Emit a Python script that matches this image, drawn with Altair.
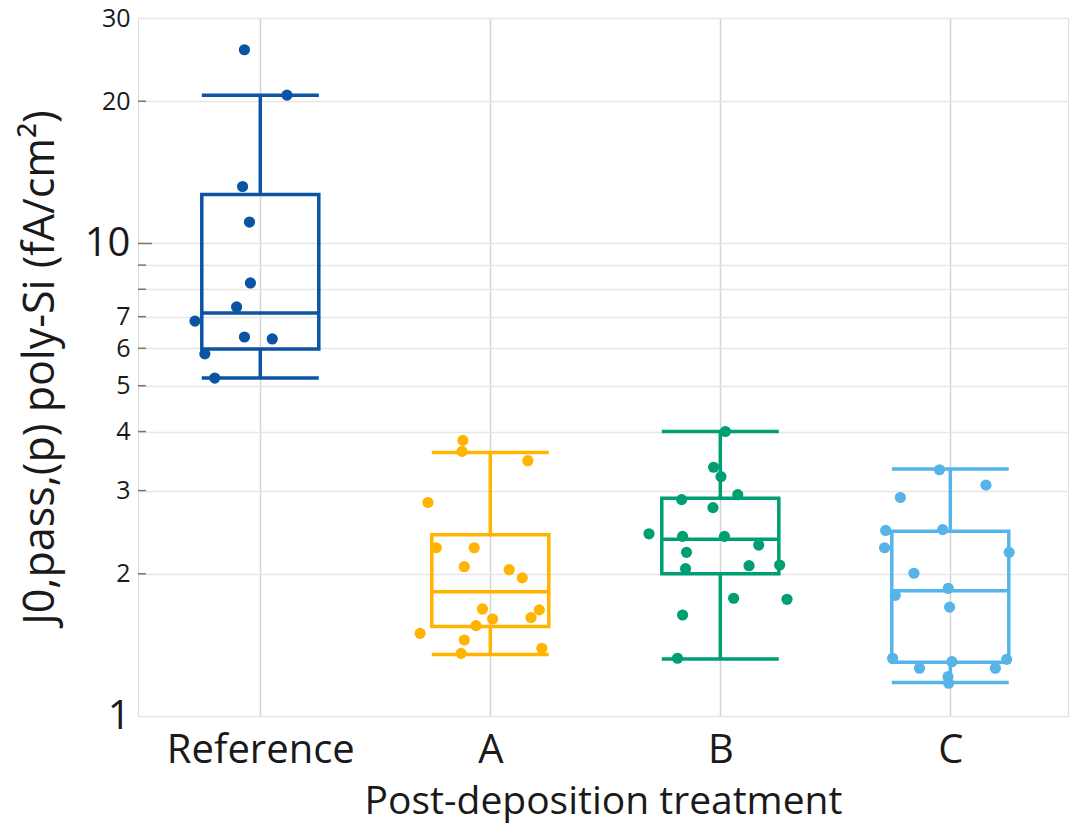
import altair as alt
import pandas as pd

# Treatment groups and colours
groups = ["Reference", "A", "B", "C"]
colors = ["#0b53a3", "#ffb400", "#009e73", "#56b4e9"]

# Individual J0 measurements (fA/cm²) per group, with horizontal jitter (fraction of band)
ref_vals = [25.7, 20.6, 13.2, 11.1, 8.25, 7.34, 6.85, 6.34, 6.28, 5.84, 5.19]
ref_jit = [-0.069, 0.116, -0.077, -0.047, -0.043, -0.103, -0.284, -0.069, 0.052, -0.241, -0.198]

a_vals = [3.83, 3.63, 3.47, 2.83, 2.27, 2.27, 2.07, 2.04, 1.96, 1.685, 1.677,
          1.604, 1.615, 1.553, 1.496, 1.448, 1.391, 1.357]
a_jit = [-0.119, -0.123, 0.163, -0.271, -0.235, -0.070, -0.113, 0.082, 0.139, -0.034, 0.213,
         0.010, 0.177, -0.062, -0.305, -0.113, 0.224, -0.127]

b_vals = [4.0, 3.36, 3.21, 2.87, 2.94, 2.76, 2.43, 2.40, 2.40, 2.30, 2.22,
          2.087, 2.05, 2.08, 1.775, 1.766, 1.636, 1.325]
b_jit = [0.022, -0.029, 0.003, -0.168, 0.076, -0.032, -0.310, -0.164, 0.018, 0.167, -0.147,
         0.258, -0.151, 0.125, 0.058, 0.290, -0.164, -0.186]

c_vals = [3.32, 3.08, 2.90, 2.47, 2.48, 2.27, 2.22, 2.005, 1.863, 1.80, 1.70,
          1.325, 1.318, 1.303, 1.262, 1.262, 1.211, 1.173]
c_jit = [-0.047, 0.155, -0.217, -0.281, -0.033, -0.286, 0.256, -0.158, -0.009, -0.239, -0.003,
         -0.251, 0.245, 0.007, -0.134, 0.196, -0.010, -0.007]

# Box summary per group: lower whisker, Q1, median, Q3, upper whisker
whisker_lo = [5.19, 1.35, 1.32, 1.178]
q1 = [5.98, 1.546, 2.0, 1.30]
median = [7.13, 1.833, 2.366, 1.84]
q3 = [12.7, 2.42, 2.89, 2.46]
whisker_hi = [20.6, 3.61, 4.0, 3.33]

# Y-axis tick values (8 and 9 carry gridlines only)
y_ticks = [1, 2, 3, 4, 5, 6, 7, 8, 9, 10, 20, 30]
y_short_ticks = [2, 3, 4, 5, 6, 7, 8, 9, 20]
y_long_ticks = [10]

all_vals = [ref_vals, a_vals, b_vals, c_vals]
all_jit = [ref_jit, a_jit, b_jit, c_jit]

points = pd.DataFrame(
    [
        {"group": g, "pos": i + j, "J0": v}
        for i, g in enumerate(groups)
        for v, j in zip(all_vals[i], all_jit[i])
    ]
)
boxes = pd.DataFrame(
    {
        "group": groups,
        "idx": list(range(len(groups))),
        "lo": whisker_lo,
        "q1": q1,
        "med": median,
        "q3": q3,
        "hi": whisker_hi,
    }
)
short_ticks = pd.DataFrame({"v": y_short_ticks})
long_ticks = pd.DataFrame({"v": y_long_ticks})

FONT = "Open Sans"
TEXT = "#1a1a1a"
label_expr = "datum.value == 0 ? 'Reference' : datum.value == 1 ? 'A' : datum.value == 2 ? 'B' : 'C'"

x_scale = alt.Scale(domain=[-0.51, 3.49], nice=False, zero=False)
y_scale = alt.Scale(type="log", domain=[1, 30], nice=False)
color_scale = alt.Scale(domain=groups, range=colors)
color = alt.Color("group:N", scale=color_scale, legend=None)

x_axis = alt.Axis(
    values=[0, 1, 2, 3],
    labelExpr=label_expr,
    title="Post-deposition treatment",
    titleFont=FONT,
    titleFontSize=39,
    titleFontWeight="normal",
    titleColor=TEXT,
    titlePadding=12,
    labelFont=FONT,
    labelFontSize=40,
    labelColor=TEXT,
    labelPadding=14,
    labelLimit=0,
    ticks=False,
    domain=False,
    grid=True,
    gridColor="#d4d4d4",
    gridWidth=1.5,
)
y_axis = alt.Axis(
    values=y_ticks,
    labelExpr="datum.value == 8 || datum.value == 9 ? '' : datum.label",
    title="J0,pass,(p) poly-Si (fA/cm²)",
    titleFont=FONT,
    titleFontSize=43,
    titleFontWeight="normal",
    titleColor=TEXT,
    titlePadding=22,
    labelFont=FONT,
    labelFontSize={"condition": {"test": "datum.value == 10 || datum.value == 1", "value": 40}, "value": 25},
    labelColor=TEXT,
    labelPadding=8,
    labelOverlap=False,
    labelFlush=False,
    ticks=False,
    domain=False,
    grid=True,
    gridColor="#e6e6e6",
    gridWidth=1.5,
)

x_enc = alt.X("idx:Q", scale=x_scale, axis=x_axis)
y_enc = alt.Y("q1:Q", scale=y_scale, axis=y_axis)

box = alt.Chart(boxes).mark_bar(size=117, fillOpacity=0, strokeWidth=3.5).encode(
    x=x_enc, y=y_enc, y2="q3:Q", stroke=alt.Stroke("group:N", scale=color_scale, legend=None)
)
tick_style = dict(orient="horizontal", size=117, thickness=3.5, opacity=1)
med_tick = alt.Chart(boxes).mark_tick(**tick_style).encode(x="idx:Q", y="med:Q", color=color)
lo_cap = alt.Chart(boxes).mark_tick(**tick_style).encode(x="idx:Q", y="lo:Q", color=color)
hi_cap = alt.Chart(boxes).mark_tick(**tick_style).encode(x="idx:Q", y="hi:Q", color=color)
lo_whisk = alt.Chart(boxes).mark_rule(strokeWidth=3.5).encode(
    x="idx:Q", y="lo:Q", y2="q1:Q", color=color
)
hi_whisk = alt.Chart(boxes).mark_rule(strokeWidth=3.5).encode(
    x="idx:Q", y="q3:Q", y2="hi:Q", color=color
)
dots = alt.Chart(points).mark_circle(size=125, opacity=1).encode(
    x="pos:Q", y="J0:Q", color=color
)
# Short inward tick marks on the left edge of the plot
tick_short = alt.Chart(short_ticks).mark_rule(color="#777", strokeWidth=1.5).encode(
    y="v:Q", x=alt.value(0), x2=alt.value(8)
)
tick_long = alt.Chart(long_ticks).mark_rule(color="#777", strokeWidth=1.5).encode(
    y="v:Q", x=alt.value(0), x2=alt.value(14)
)

chart = (
    alt.layer(box, lo_whisk, hi_whisk, lo_cap, hi_cap, med_tick, dots, tick_short, tick_long)
    .properties(
        width=930,
        height=698,
        autosize=alt.AutoSizeParams(type="none"),
        padding={"left": 138, "top": 18, "right": 8, "bottom": 117},
    )
    .configure_view(stroke="#aaaaaa", strokeWidth=2)
    .configure(background="white")
)

chart.save("out.html", embed_options={"renderer": "svg", "actions": False})
